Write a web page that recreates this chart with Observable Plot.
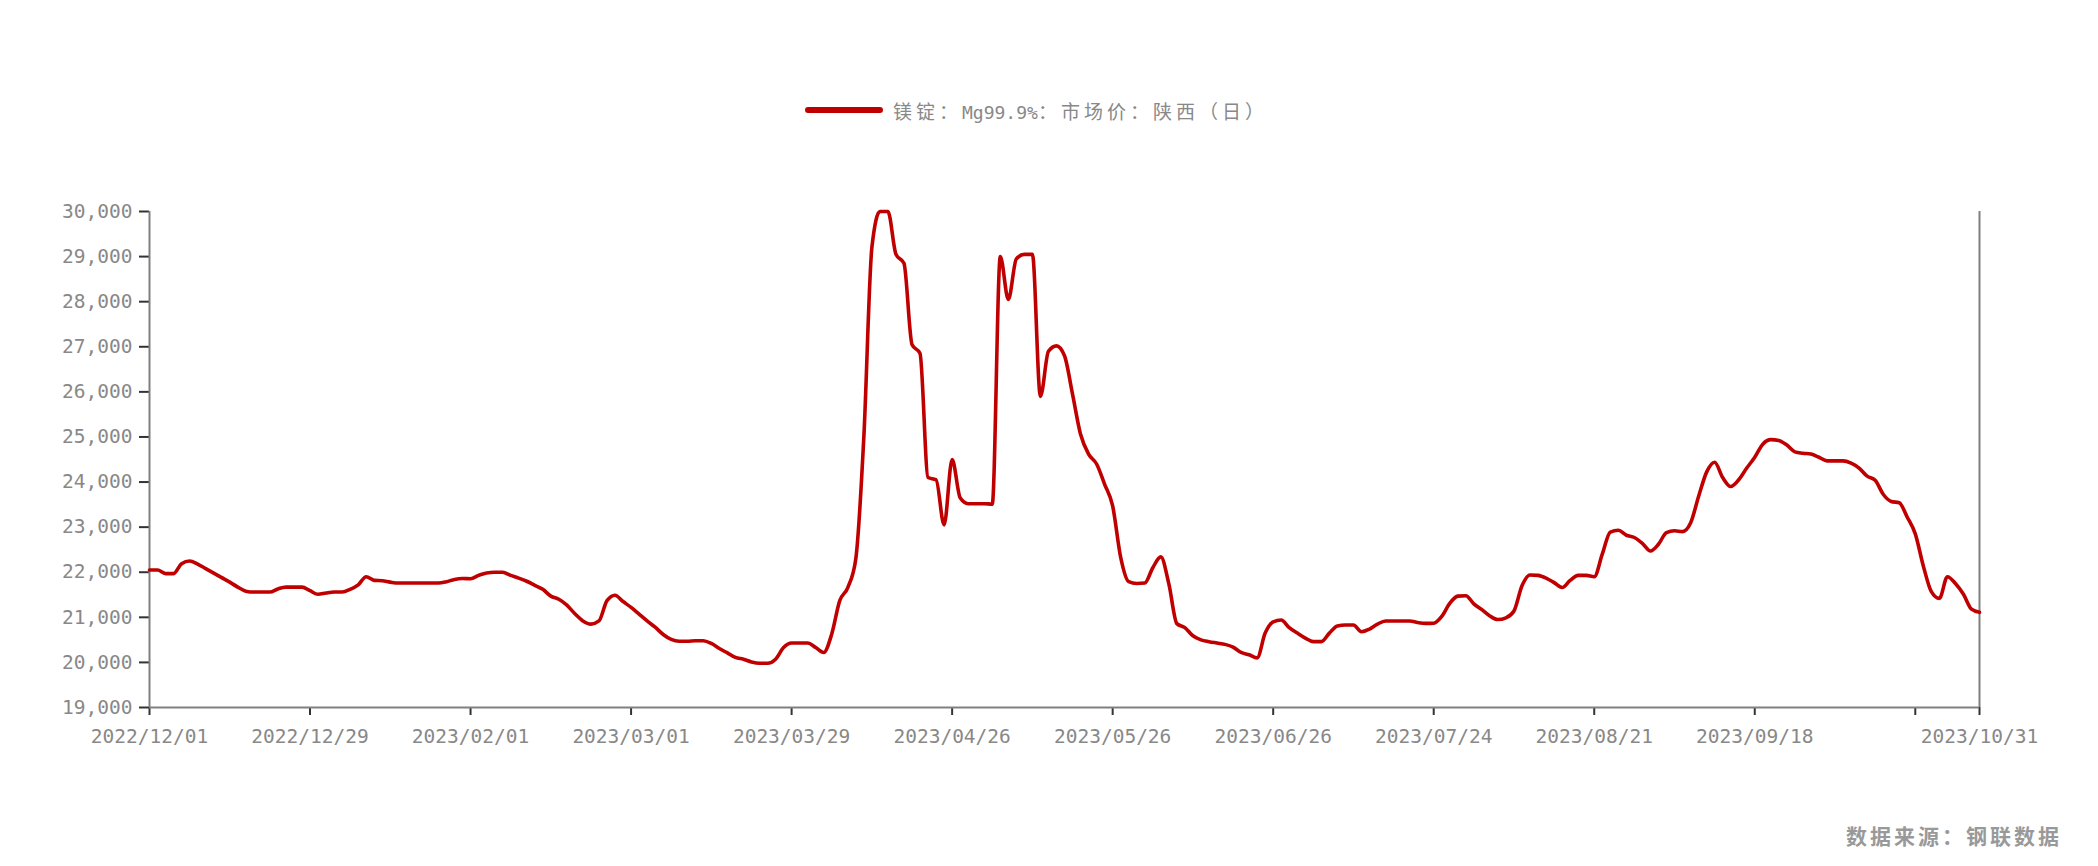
<!DOCTYPE html>
<html>
<head>
<meta charset="utf-8">
<script src="https://cdn.jsdelivr.net/npm/d3@7"></script>
<script src="https://cdn.jsdelivr.net/npm/@observablehq/plot@0.6"></script>
<style>
  html, body { margin: 0; padding: 0; background: #fff; }
  #wrap { position: relative; width: 2098px; height: 866px; overflow: hidden; }
  #legend { position: absolute; left: 805px; top: 97px; height: 26px; display: flex; align-items: center; white-space: nowrap; }
  #legend .sw { width: 78px; height: 6px; border-radius: 3px; background: #C00000; margin-right: 10px; }
  #legend .tx { font-family: "DejaVu Sans Mono", "Noto Sans CJK SC", monospace; font-size: 18px; color: #888; }
  #legend .cjk { font-family: "Noto Sans CJK SC", sans-serif; font-size: 19px; letter-spacing: 4px; }
  #chart { position: absolute; left: 0; top: 150px; }
  #source { position: absolute; right: 36px; top: 820px; font-family: "Noto Sans CJK SC", sans-serif; font-size: 21px; font-weight: 700; letter-spacing: 3px; color: #999; }
</style>
</head>
<body>
<div id="wrap">
  <div id="legend"><div class="sw"></div><div class="tx"><span class="cjk">镁锭：</span>Mg99.9%<span class="cjk">：市场价：陕西（日）</span></div></div>
  <div id="chart"></div>
  <div id="source">数据来源：钢联数据</div>
</div>
<script>
// 镁锭 Mg99.9% 陕西 市场价 (元/吨), one value per trading day, 2022/12/01 – 2023/10/31
const prices = [
  22050,22050,21970,21970,22190,22250,22180,22080,21980,21880,
  21780,21670,21580,21560,21560,21560,21630,21670,21670,21670,
  21590,21510,21540,21560,21560,21620,21720,21900,21820,21810,
  21780,21760,21760,21760,21760,21760,21760,21790,21840,21860,
  21855,21930,21985,22000,22000,21930,21870,21800,21710,21620,
  21470,21400,21270,21080,20920,20850,20920,21370,21490,21350,
  21220,21070,20920,20780,20620,20510,20470,20470,20480,20480,
  20420,20310,20210,20110,20070,20010,19980,19980,20070,20330,
  20430,20430,20430,20330,20220,20630,21370,21660,22300,25000,
  29200,30000,30000,29050,28850,27050,26850,24100,24050,23050,
  24500,23650,23520,23520,23520,23510,29000,28050,28950,29050,
  29050,25900,26900,27020,26800,25950,25060,24620,24400,23950,
  23470,22330,21790,21750,21760,22100,22340,21740,20860,20770,
  20590,20500,20460,20430,20400,20340,20220,20170,20100,20650,
  20900,20940,20770,20650,20540,20460,20460,20650,20810,20830,
  20830,20680,20740,20850,20920,20920,20920,20920,20885,20865,
  20870,21020,21310,21470,21480,21300,21170,21030,20950,20990,
  21140,21700,21940,21930,21870,21770,21660,21820,21930,21930,
  21900,22400,22890,22930,22820,22770,22640,22470,22620,22880,
  22920,22900,23090,23680,24220,24440,24100,23900,24050,24310,
  24550,24840,24940,24920,24820,24670,24640,24620,24550,24470,
  24470,24470,24420,24310,24130,24040,23730,23570,23540,23220,
  22850,22140,21570,21420,21900,21750,21510,21180,21110
];
const tickIndex  = [0, 20, 40, 60, 80, 100, 120, 140, 160, 180, 200, 220, 228];
const tickLabels = ["2022/12/01","2022/12/29","2023/02/01","2023/03/01","2023/03/29","2023/04/26",
                    "2023/05/26","2023/06/26","2023/07/24","2023/08/21","2023/09/18","","2023/10/31"];
const yTicks = [19000,20000,21000,22000,23000,24000,25000,26000,27000,28000,29000,30000];

const data = prices.map((v, i) => ({i, v}));
const lastIndex = prices.length - 1;
const fmt = d3.format(",");

const chart = Plot.plot({
  width: 2098,
  height: 640,
  marginLeft: 149,
  marginRight: 119,
  marginTop: 61,
  marginBottom: 83,
  style: { fontFamily: "'DejaVu Sans Mono', monospace", fontSize: "19.5px", background: "transparent", overflow: "visible" },
  x: { domain: [0, lastIndex], axis: null },
  y: { domain: [19000, 30000], axis: null },
  marks: [
    Plot.axisY({ticks: yTicks, tickFormat: d => fmt(d), tickSize: 10, tickPadding: 7,
                stroke: "#333", strokeWidth: 2, fill: "#888", label: null}),
    Plot.axisX({ticks: tickIndex, tickFormat: d => tickLabels[tickIndex.indexOf(d)], tickSize: 8, tickPadding: 14,
                stroke: "#333", strokeWidth: 2, fill: "#888", label: null}),
    Plot.ruleX([0], {stroke: "#808080", strokeWidth: 2}),
    Plot.ruleX([lastIndex], {stroke: "#808080", strokeWidth: 2}),
    Plot.ruleY([19000], {stroke: "#808080", strokeWidth: 2}),
    Plot.line(data, {x: "i", y: "v", stroke: "#C00000", strokeWidth: 3.6, curve: "monotone-x", strokeLinejoin: "round"})
  ]
});
document.getElementById("chart").appendChild(chart);
</script>
</body>
</html>
